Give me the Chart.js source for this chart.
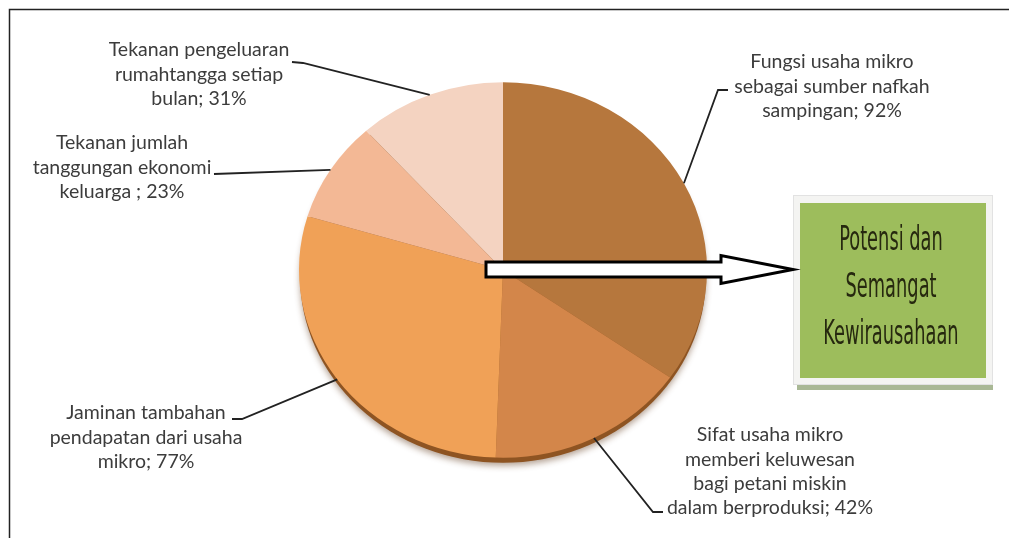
<!DOCTYPE html>
<html>
  <head>
    <style>
      body { margin: 0; background: #fff; }
      canvas { display: block; }
    </style>
    <script src="https://cdn.jsdelivr.net/npm/chart.js"></script>
  </head>
  <body>
    <canvas id="pieChart" width="1009" height="538"></canvas>

    <script>
      // slices, clockwise from 12 o'clock
      var categories = [
        'Fungsi usaha mikro sebagai sumber nafkah sampingan',
        'Sifat usaha mikro memberi keluwesan bagi petani miskin dalam berproduksi',
        'Jaminan tambahan pendapatan dari usaha mikro',
        'Tekanan jumlah tanggungan ekonomi keluarga',
        'Tekanan pengeluaran rumahtangga setiap bulan'
      ];
      var values = [92, 42, 77, 23, 31];
      // label text as it is broken in the picture; {v} = value
      var labelLines = [
        ['Fungsi usaha mikro', 'sebagai sumber nafkah', 'sampingan; {v}%'],
        ['Sifat usaha mikro', 'memberi keluwesan', 'bagi petani miskin', 'dalam berproduksi; {v}%'],
        ['Jaminan tambahan', 'pendapatan dari usaha', 'mikro; {v}%'],
        ['Tekanan jumlah', 'tanggungan ekonomi', 'keluarga ; {v}%'],
        ['Tekanan pengeluaran', 'rumahtangga setiap', 'bulan; {v}%']
      ];
      var boxText = ['Potensi dan', 'Semangat', 'Kewirausahaan'];
      var colors = ['#b6773d', '#d3864a', '#f0a157', '#f3b895', '#f4d3c1'];

      var TILT = 0.92; // squash for the flat 3d look

      // label placement: text centre x, first line y, leader elbow points (from text to pie)
      var callouts = [
        { x: 832, y: 62, elbow: [[728, 90], [718, 90]] },
        { x: 770, y: 435, elbow: [[663, 512], [653, 512]] },
        { x: 146, y: 413, elbow: [[232, 419], [242, 419]] },
        { x: 122, y: 143, elbow: [[214, 174]] },
        { x: 199, y: 50, elbow: [[292, 62], [303, 63]] }
      ];

      function pieGeom(chart) {
        var arc = chart.getDatasetMeta(0).data[0];
        return { x: arc.x, y: arc.y, r: arc.outerRadius };
      }

      var tiltPlugin = {
        id: 'tilt',
        beforeDatasetsDraw: function (chart) {
          var ctx = chart.ctx, g = pieGeom(chart);
          ctx.save();
          ctx.translate(g.x, g.y);
          ctx.scale(1, TILT);
          ctx.translate(-g.x, -g.y);
          // dark rim under the pie
          ctx.save();
          ctx.shadowColor = 'rgba(90,50,20,0.45)';
          ctx.shadowBlur = 6;
          ctx.shadowOffsetY = 3;
          ctx.beginPath();
          ctx.arc(g.x, g.y + 6 / TILT, g.r - 1, 0, Math.PI * 2);
          ctx.fillStyle = '#8e5422';
          ctx.fill();
          ctx.restore();
        },
        afterDatasetsDraw: function (chart) {
          chart.ctx.restore();
        }
      };

      var decorPlugin = {
        id: 'decor',
        afterDraw: function (chart) {
          var ctx = chart.ctx, g = pieGeom(chart);
          var arcs = chart.getDatasetMeta(0).data;

          // frame
          ctx.save();
          ctx.strokeStyle = '#222';
          ctx.lineWidth = 1.5;
          ctx.beginPath();
          ctx.moveTo(9.5, 538);
          ctx.lineTo(9.5, 9.5);
          ctx.lineTo(1009, 9.5);
          ctx.stroke();
          ctx.restore();

          // labels + leader lines
          ctx.save();
          ctx.font = '19.5px Lato, "Open Sans", sans-serif';
          ctx.fillStyle = '#3c3c3c';
          ctx.textAlign = 'center';
          ctx.textBaseline = 'middle';
          arcs.forEach(function (a, i) {
            var c = callouts[i];
            var mid = (a.startAngle + a.endAngle) / 2;
            var px = g.x + g.r * Math.cos(mid);
            var py = g.y + g.r * TILT * Math.sin(mid);
            ctx.strokeStyle = '#222';
            ctx.lineWidth = 1.8;
            ctx.beginPath();
            ctx.moveTo(c.elbow[0][0], c.elbow[0][1]);
            for (var k = 1; k < c.elbow.length; k++) ctx.lineTo(c.elbow[k][0], c.elbow[k][1]);
            ctx.lineTo(px, py);
            ctx.stroke();
            labelLines[i].forEach(function (t, j) {
              ctx.fillText(t.replace('{v}', values[i]), c.x, c.y + j * 24.3);
            });
          });
          ctx.restore();

          // green box with shadow
          ctx.save();
          ctx.fillStyle = '#a9b895';
          ctx.fillRect(797, 384, 196, 6);
          ctx.fillStyle = '#f4f4f2';
          ctx.fillRect(793, 195, 200, 190);
          ctx.strokeStyle = '#e2e2e2';
          ctx.lineWidth = 1;
          ctx.strokeRect(793.5, 195.5, 199, 189);
          ctx.fillStyle = '#9dbd5c';
          ctx.fillRect(800, 203, 186, 175);
          ctx.fillStyle = '#26280f';
          ctx.font = '33px "DejaVu Sans Condensed", "DejaVu Sans", sans-serif';
          ctx.textAlign = 'center';
          ctx.textBaseline = 'middle';
          boxText.forEach(function (t, j) {
            ctx.save();
            ctx.translate(891, 241 + j * 47);
            ctx.scale(0.6, 1);
            ctx.fillText(t, 0, 0);
            ctx.restore();
          });
          ctx.restore();

          // arrow from pie centre to the box
          var x0 = g.x - 17, x1 = 721, tip = 793, yc = 269.5;
          ctx.save();
          ctx.beginPath();
          ctx.moveTo(x0, yc - 7.5);
          ctx.lineTo(x1, yc - 7.5);
          ctx.lineTo(x1, yc - 14);
          ctx.lineTo(tip, yc);
          ctx.lineTo(x1, yc + 14);
          ctx.lineTo(x1, yc + 7.5);
          ctx.lineTo(x0, yc + 7.5);
          ctx.closePath();
          ctx.fillStyle = '#fff';
          ctx.fill();
          ctx.strokeStyle = '#000';
          ctx.lineWidth = 3;
          ctx.lineJoin = 'miter';
          ctx.stroke();
          ctx.restore();
        }
      };

      var ctx = document.getElementById('pieChart').getContext('2d');
      new Chart(ctx, {
        type: 'pie',
        data: {
          labels: categories,
          datasets: [{
            data: values,
            backgroundColor: colors,
            borderWidth: 0
          }]
        },
        options: {
          responsive: false,
          animation: false,
          layout: { padding: { left: 299, right: 302, top: 66, bottom: 64 } },
          plugins: {
            legend: { display: false },
            tooltip: { enabled: false }
          }
        },
        plugins: [tiltPlugin, decorPlugin]
      });
    </script>
  </body>
</html>
